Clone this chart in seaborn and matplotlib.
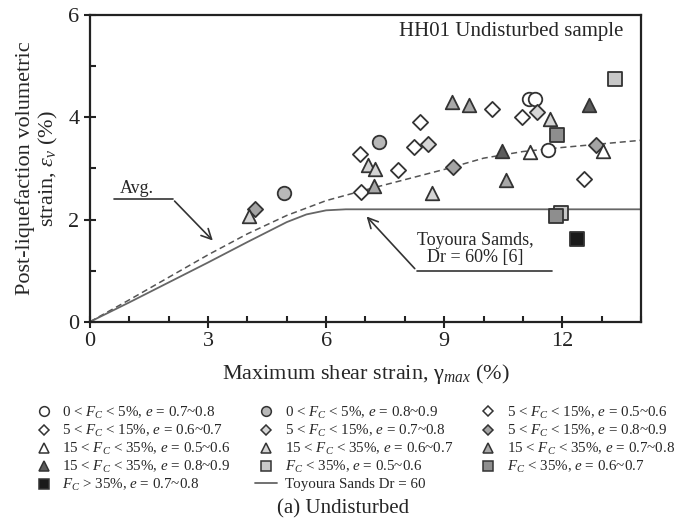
import matplotlib
matplotlib.use('Agg')
import matplotlib.pyplot as plt
import seaborn as sns
import numpy as np
from matplotlib.lines import Line2D
from matplotlib.ticker import MultipleLocator

sns.set_style('ticks')
plt.rcParams['font.family'] = ['Liberation Serif', 'DejaVu Serif']
plt.rcParams['mathtext.fontset'] = 'custom'
plt.rcParams['mathtext.rm'] = 'Liberation Serif'
plt.rcParams['mathtext.it'] = 'Liberation Serif:italic'
plt.rcParams['mathtext.bf'] = 'Liberation Serif:bold'

# ---- data ----
labels = [
    r'0 < $F_C$ < 5%, $e$ = 0.7~0.8',
    r'0 < $F_C$ < 5%, $e$ = 0.8~0.9',
    r'5 < $F_C$ < 15%, $e$ = 0.5~0.6',
    r'5 < $F_C$ < 15%, $e$ = 0.6~0.7',
    r'5 < $F_C$ < 15%, $e$ = 0.7~0.8',
    r'5 < $F_C$ < 15%, $e$ = 0.8~0.9',
    r'15 < $F_C$ < 35%, $e$ = 0.5~0.6',
    r'15 < $F_C$ < 35%, $e$ = 0.6~0.7',
    r'15 < $F_C$ < 35%, $e$ = 0.7~0.8',
    r'15 < $F_C$ < 35%, $e$ = 0.8~0.9',
    r'$F_C$ < 35%, $e$ = 0.5~0.6',
    r'$F_C$ < 35%, $e$ = 0.6~0.7',
    r'$F_C$ > 35%, $e$ = 0.7~0.8',
]
markers = ['o', 'o', 'D', 'D', 'D', 'D', '^', '^', '^', '^', 's', 's', 's']
fills = ['#ffffff', '#b8b8b8', '#ffffff', '#ffffff', '#d6d6d6', '#a4a4a4',
         '#ffffff', '#d4d4d4', '#a8a8a8', '#5c5c5c', '#c8c8c8', '#8e8e8e', '#1a1a1a']

gamma = [
    [11.16, 11.30, 11.64],
    [4.93, 7.35],
    [6.85, 7.83, 8.39, 10.21],
    [6.88, 8.24, 10.97, 12.56],
    [8.60, 11.36],
    [4.18, 9.22, 12.86],
    [11.19, 13.03],
    [4.04, 7.07, 7.24, 8.69, 11.69],
    [7.22, 9.19, 9.63, 10.58],
    [10.47, 12.69],
    [11.97, 13.34],
    [11.86, 11.84],
    [12.37],
]
strain = [
    [4.35, 4.35, 3.36],
    [2.51, 3.52],
    [3.28, 2.97, 3.91, 4.16],
    [2.54, 3.42, 4.00, 2.79],
    [3.47, 4.10],
    [2.20, 3.02, 3.46],
    [3.33, 3.35],
    [2.07, 3.07, 2.98, 2.51, 3.97],
    [2.66, 4.29, 4.25, 2.77],
    [3.34, 4.24],
    [2.12, 4.75],
    [3.65, 2.07],
    [1.61],
]

avg_x = [0, 1, 2, 3, 4, 5, 6, 7, 8, 9, 10, 11, 12, 13, 14]
avg_y = [0, 0.43, 0.87, 1.31, 1.72, 2.08, 2.37, 2.58, 2.78, 2.98, 3.20, 3.33, 3.41, 3.48, 3.55]
toy_x = [0, 1, 2, 3, 4, 5, 5.5, 6, 6.5, 7, 14]
toy_y = [0, 0.38, 0.77, 1.16, 1.56, 1.95, 2.10, 2.18, 2.20, 2.20, 2.20]

fig = plt.figure(figsize=(6.87, 5.19), dpi=100)
ax = fig.add_axes([0.131, 0.380, 0.802, 0.591])

sns.lineplot(x=avg_x, y=avg_y, ax=ax, color='#555555', lw=1.1, linestyle=(0, (4, 2.5)))
sns.lineplot(x=toy_x, y=toy_y, ax=ax, color='#666666', lw=1.3)

for i in range(len(labels)):
    sns.scatterplot(x=gamma[i], y=strain[i], ax=ax, marker=markers[i],
                    color=fills[i], edgecolor='#333333', linewidth=1.3,
                    s=95 if markers[i] != 'D' else 60, zorder=3)

# annotations
ax.text(1.2, 2.45, 'Avg.', fontsize=13, ha='center', va='bottom')
ax.plot([0.6, 2.1], [2.4, 2.4], color='#333333', lw=1.2)
ax.annotate('', xy=(3.17, 1.55), xytext=(2.1, 2.4),
            arrowprops=dict(arrowstyle='->', color='#333333', lw=1.2, mutation_scale=18))
ax.text(9.8, 1.42, 'Toyoura Samds,\nDr = 60% [6]', fontsize=13, ha='center',
        va='center', linespacing=1.0)
ax.plot([8.3, 11.75], [1.0, 1.0], color='#333333', lw=1.2)
ax.annotate('', xy=(6.98, 2.1), xytext=(8.3, 1.0),
            arrowprops=dict(arrowstyle='->', color='#333333', lw=1.2, mutation_scale=18))
ax.text(13.55, 5.67, 'HH01 Undisturbed sample', fontsize=15, ha='right', va='center')

ax.set_xlim(0, 14)
ax.set_ylim(0, 6)
ax.set_xticks([0, 3, 6, 9, 12])
ax.set_yticks([0, 2, 4, 6])
ax.xaxis.set_minor_locator(MultipleLocator(1))
ax.yaxis.set_minor_locator(MultipleLocator(1))
ax.tick_params(which='major', direction='inout', length=8, width=1.5, labelsize=16, colors='#222222')
ax.tick_params(which='minor', direction='in', length=4, width=1.5, colors='#222222')
for sp in ax.spines.values():
    sp.set_visible(True)
    sp.set_linewidth(1.6)
    sp.set_color('#222222')
ax.set_xlabel(r'Maximum shear strain, $\mathrm{\gamma}_{max}$ (%)', fontsize=16, labelpad=8)
ax.set_ylabel('Post-liquefaction volumetric\n' + r'strain, $\varepsilon_v$ (%)', fontsize=16,
              labelpad=6, linespacing=1.1)

# legend, row-major as in the figure
handles = []
for i in range(len(labels)):
    handles.append(Line2D([], [], marker=markers[i], linestyle='none', markerfacecolor=fills[i],
                          markeredgecolor='#333333', markeredgewidth=1.1,
                          markersize=7 if markers[i] != 'D' else 5.5, label=labels[i]))
handles.append(Line2D([], [], color='#666666', lw=1.3, label='Toyoura Sands Dr = 60'))
order = [0, 3, 6, 9, 12, 1, 4, 7, 10, 13, 2, 5, 8, 11]
handles = [handles[k] for k in order]
fig.legend(handles=handles, loc='upper center', bbox_to_anchor=(0.515, 0.232), ncol=3,
           frameon=False, fontsize=10.8, handlelength=1.5, handletextpad=0.5,
           columnspacing=1.6, labelspacing=0.14, borderaxespad=0)

fig.text(0.5, 0.02, '(a) Undisturbed', fontsize=15, ha='center', va='center')

fig.savefig('out.png', dpi=100)
